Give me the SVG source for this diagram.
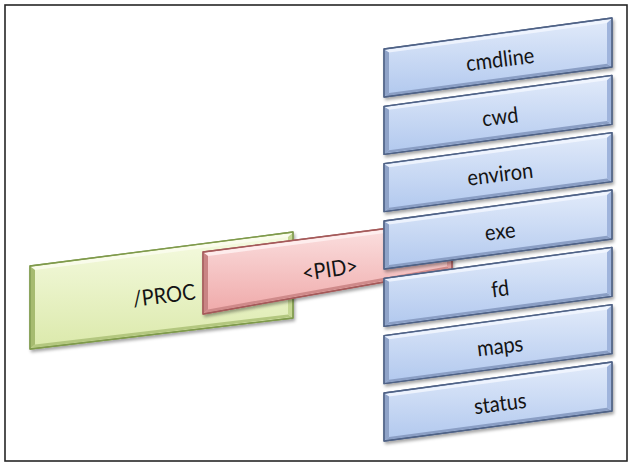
<svg xmlns="http://www.w3.org/2000/svg" xmlns:xlink="http://www.w3.org/1999/xlink" width="631" height="466" viewBox="0 0 631 466">
  <style>
    .label { font-family: Lato, "Open Sans", "Liberation Sans", sans-serif; font-size: 20px; fill: #141414; text-anchor: middle; }
    .edge-blue { stroke: #4f6286; stroke-width: 1.3; stroke-linejoin: round; }
    .edge-green { stroke: #7f9a4c; stroke-width: 1.3; stroke-linejoin: round; }
    .edge-red { stroke: #a45a5a; stroke-width: 1.3; stroke-linejoin: round; }
  </style>
  <defs>
    <linearGradient id="faceBlue" x1="0" y1="0" x2="0" y2="1">
      <stop offset="0" stop-color="#e2ebfa"/>
      <stop offset="1" stop-color="#b1c8ee"/>
    </linearGradient>
    <linearGradient id="faceGreen" x1="0" y1="0" x2="0" y2="1">
      <stop offset="0" stop-color="#f6fbe2"/>
      <stop offset="1" stop-color="#dbe9ab"/>
    </linearGradient>
    <linearGradient id="faceRed" x1="0" y1="0" x2="0" y2="1">
      <stop offset="0" stop-color="#fce4e4"/>
      <stop offset="1" stop-color="#efa9a9"/>
    </linearGradient>
    <filter id="shadow" x="-10%" y="-20%" width="125%" height="150%">
      <feDropShadow dx="1.5" dy="2.5" stdDeviation="1.6" flood-color="#000" flood-opacity="0.35"/>
    </filter>

    <!-- one bevelled slab of the file column, origin at its top-left corner -->
    <g id="blueSlab">
      <path class="edge-blue" fill="url(#faceBlue)" filter="url(#shadow)" d="M0,0 L228,-31 L228,18 L0,48 Z"/>
      <path fill="#f4f8ff" opacity="0.8" d="M1,1 L227,-29.5 L223,-26 L5,3.5 Z"/>
      <path fill="#8fa3c8" d="M1,1 L5,3.5 L5,44 L1,47 Z"/>
      <path fill="#8a9ec4" d="M1,47 L5,44 L223,14.8 L227,17.3 Z"/>
      <path fill="#9fb4dc" d="M227,-29.5 L227,17.3 L223,14.8 L223,-26 Z"/>
      <path class="edge-blue" fill="none" d="M0,0 L228,-31 L228,18 L0,48 Z"/>
    </g>
  </defs>

  <rect width="631" height="466" fill="#ffffff"/>
  <rect x="5" y="5" width="622" height="456" fill="none" stroke="#262626" stroke-width="1.6"/>

  <!-- /PROC slab -->
  <g id="node-proc">
    <path class="edge-green" fill="url(#faceGreen)" filter="url(#shadow)" d="M30,266 L293,232 L293,318 L30,349 Z"/>
    <path fill="#fbfdf0" opacity="0.8" d="M31,267 L292,233.5 L288,237 L35,270 Z"/>
    <path fill="#a6bb70" d="M31,267 L35,270 L35,344.5 L31,348 Z"/>
    <path fill="#b3c77f" d="M31,348 L35,344.5 L288,314.5 L292,317 Z"/>
    <path fill="#c6d894" d="M292,233.5 L292,317 L288,314.5 L288,237 Z"/>
    <path class="edge-green" fill="none" d="M30,266 L293,232 L293,318 L30,349 Z"/>
    <text class="label" transform="translate(165,303) rotate(-7) scale(1,1.1)">/PROC</text>
  </g>

  <!-- <PID> slab -->
  <g id="node-pid">
    <path class="edge-red" fill="url(#faceRed)" filter="url(#shadow)" d="M203,252 L452,220 L452,270 L203,314 Z"/>
    <path fill="#fff2f2" opacity="0.8" d="M204,253 L451,221.5 L447,225 L208,256 Z"/>
    <path fill="#c98484" d="M204,253 L208,256 L208,309.5 L204,313 Z"/>
    <path fill="#cf8a8a" d="M204,313 L208,309.5 L447,266.5 L451,269 Z"/>
    <path fill="#e3a0a0" d="M451,221.5 L451,269 L447,266.5 L447,225 Z"/>
    <path class="edge-red" fill="none" d="M203,252 L452,220 L452,270 L203,314 Z"/>
    <text class="label" transform="translate(331,277) rotate(-8) scale(1,1.1)">&lt;PID&gt;</text>
  </g>

  <!-- file entries under /proc/<PID> -->
  <g id="node-cmdline">
    <use xlink:href="#blueSlab" transform="translate(384,49)"/>
    <text class="label" transform="translate(501,67) rotate(-7) scale(1,1.1)">cmdline</text>
  </g>
  <g id="node-cwd">
    <use xlink:href="#blueSlab" transform="translate(384,106.3)"/>
    <text class="label" transform="translate(501,124.3) rotate(-7) scale(1,1.1)">cwd</text>
  </g>
  <g id="node-environ">
    <use xlink:href="#blueSlab" transform="translate(384,163.7)"/>
    <text class="label" transform="translate(501,181.7) rotate(-7) scale(1,1.1)">environ</text>
  </g>
  <g id="node-exe">
    <use xlink:href="#blueSlab" transform="translate(384,221)"/>
    <text class="label" transform="translate(501,239) rotate(-7) scale(1,1.1)">exe</text>
  </g>
  <g id="node-fd">
    <use xlink:href="#blueSlab" transform="translate(384,278.3)"/>
    <text class="label" transform="translate(501,296.3) rotate(-7) scale(1,1.1)">fd</text>
  </g>
  <g id="node-maps">
    <use xlink:href="#blueSlab" transform="translate(384,335.7)"/>
    <text class="label" transform="translate(501,353.7) rotate(-7) scale(1,1.1)">maps</text>
  </g>
  <g id="node-status">
    <use xlink:href="#blueSlab" transform="translate(384,393)"/>
    <text class="label" transform="translate(501,411) rotate(-7) scale(1,1.1)">status</text>
  </g>

  <g id="connectors"/>
</svg>
